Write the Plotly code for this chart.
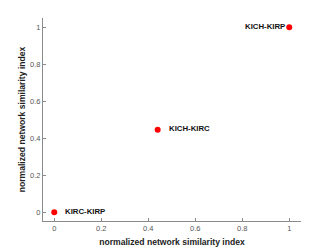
import plotly.graph_objects as go

labels = ["KIRC-KIRP", "KICH-KIRC", "KICH-KIRP"]
x_vals = [0.0, 0.44, 1.0]
y_vals = [0.0, 0.445, 1.0]
label_side = ["right", "right", "left"]
tick_vals = [0, 0.2, 0.4, 0.6, 0.8, 1]
tick_text = ["0", "0.2", "0.4", "0.6", "0.8", "1"]

FONT = "Liberation Sans, Arial"

fig = go.Figure()
fig.add_trace(go.Scatter(
    x=x_vals, y=y_vals, mode="markers",
    marker=dict(color="#ff0000", size=6),
    cliponaxis=False,
    showlegend=False,
))

for lab, xv, yv, side in zip(labels, x_vals, y_vals, label_side):
    fig.add_annotation(
        x=xv, y=yv, text="<b>" + lab + "</b>", showarrow=False,
        xanchor="left" if side == "right" else "right",
        xshift=9 if side == "right" else -2, yshift=1,
        font=dict(family=FONT, size=7.8, color="#111111"),
    )

axis_common = dict(
    range=[-0.048, 1.05], tickvals=tick_vals, ticktext=tick_text,
    showgrid=False, zeroline=False, showline=True, linecolor="#8a8a8a",
    linewidth=1, ticks="inside", ticklen=3, tickcolor="#8a8a8a",
    tickfont=dict(family=FONT, size=7.5, color="#555555"),
    mirror=False, automargin=False,
)

# page body has an 8px default margin, so the figure is drawn 8px in
fig.update_layout(
    width=324, height=241,
    margin=dict(l=35, r=31, t=10, b=28),
    paper_bgcolor="white", plot_bgcolor="white",
    xaxis=dict(**axis_common,
               title=dict(text="<b>normalized network similarity index</b>",
                          font=dict(family=FONT, size=8.6, color="#222222"),
                          standoff=6)),
    yaxis=dict(**axis_common,
               title=dict(text="<b>normalized network similarity index</b>",
                          font=dict(family=FONT, size=8.6, color="#222222"),
                          standoff=3)),
)

fig.write_html("out.html")
